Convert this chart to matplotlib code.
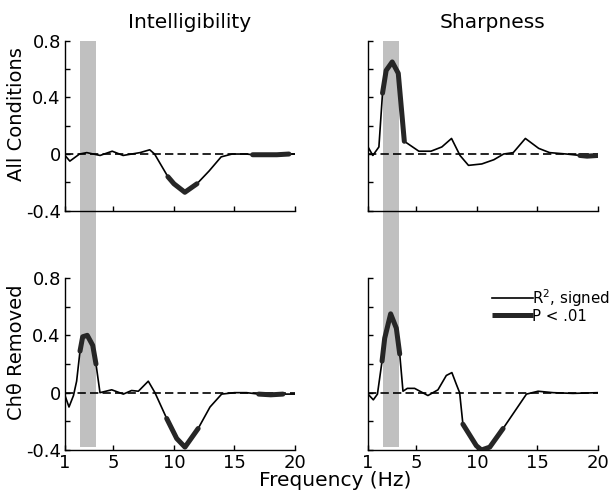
import numpy as np
import matplotlib.pyplot as plt
from matplotlib.lines import Line2D

plt.rcParams['font.family'] = ['DejaVu Sans']

# --- data ---
freq_int_all = [1, 1.4, 2.2, 2.8, 3.9, 4.9, 5.8, 7.2, 8.0, 8.4, 9.5, 10.0, 10.9, 11.9,
                12.9, 13.9, 14.8, 16.0, 16.5, 17.5, 18.5, 19.5, 20]
r2_int_all = [-0.01, -0.05, 0.0, 0.01, -0.01, 0.02, -0.01, 0.01, 0.03, 0.0, -0.16, -0.21,
              -0.27, -0.21, -0.12, -0.02, 0.0, 0.0, -0.005, -0.005, -0.005, 0.0, 0.0]
sig_int_all = [(9.5, 11.9), (16.5, 19.5)]

freq_shp_all = [1, 1.4, 1.9, 2.2, 2.5, 3.0, 3.5, 3.75, 4.0, 5.2, 6.2, 7.1, 7.9, 8.6, 9.3,
                10.4, 11.4, 12.2, 13.0, 14.0, 15.1, 16.0, 17.4, 18.5, 19.1, 20]
r2_shp_all = [0.05, -0.01, 0.05, 0.43, 0.59, 0.65, 0.57, 0.33, 0.09, 0.02, 0.02, 0.05, 0.11,
              -0.01, -0.08, -0.07, -0.04, 0.0, 0.01, 0.11, 0.04, 0.01, 0.0, -0.01, -0.015, -0.01]
sig_shp_all = [(2.2, 4.0), (18.5, 20)]

freq_int_rm = [1, 1.33, 1.7, 1.96, 2.24, 2.46, 2.84, 3.29, 3.56, 3.89, 4.86, 5.82, 6.5, 7.06,
               7.88, 8.43, 9.4, 10.23, 10.91, 12.0, 12.98, 13.94, 15, 16, 17, 18, 19, 20]
r2_int_rm = [-0.02, -0.10, -0.02, 0.08, 0.29, 0.39, 0.40, 0.33, 0.20, 0.0, 0.02, -0.01, 0.015,
             0.01, 0.08, 0.0, -0.18, -0.32, -0.38, -0.25, -0.10, -0.01, 0.0, 0.0, -0.01,
             -0.015, -0.01, -0.01]
sig_int_rm = [(2.24, 3.56), (9.4, 12.0), (17, 19)]

freq_shp_rm = [1, 1.44, 1.78, 2.16, 2.38, 2.87, 3.34, 3.62, 3.89, 4.25, 4.85, 5.95, 6.78, 7.47,
               7.93, 8.29, 8.57, 8.84, 9.95, 10.37, 11.06, 12.16, 14.09, 15.05, 16.29, 17.94, 20]
r2_shp_rm = [-0.01, -0.05, -0.01, 0.22, 0.38, 0.55, 0.45, 0.27, 0.01, 0.03, 0.03, -0.02, 0.02,
             0.12, 0.14, 0.06, 0.0, -0.22, -0.37, -0.40, -0.38, -0.25, -0.01, 0.01, 0.0,
             -0.005, 0.0]
sig_shp_rm = [(2.16, 3.62), (8.84, 12.16)]

band = (2.2, 3.6)
col_titles = ['Intelligibility', 'Sharpness']
row_labels = ['All Conditions', 'Ch\u03b8 Removed']

fig = plt.figure(figsize=(6.15, 5.01), dpi=100)
W, H = 615.0, 501.0
lefts = [65, 368]
tops = [40.7, 278]
bots = [210.7, 450]
aw = 230

panels = [[(freq_int_all, r2_int_all, sig_int_all), (freq_shp_all, r2_shp_all, sig_shp_all)],
          [(freq_int_rm, r2_int_rm, sig_int_rm), (freq_shp_rm, r2_shp_rm, sig_shp_rm)]]

axes = {}
for r in range(2):
    for c in range(2):
        ax = fig.add_axes([lefts[c] / W, 1 - bots[r] / H, aw / W, (bots[r] - tops[r]) / H])
        axes[r, c] = ax
        f, y, sig = panels[r][c]
        f = np.array(f)
        y = np.array(y)

        # grey band (top row band runs down through the gap)
        if r == 0:
            gap = (tops[1] - bots[0]) / (bots[0] - tops[0])
            ax.axvspan(band[0], band[1], ymin=-gap, ymax=1, color='#c0c0c0', lw=0,
                       clip_on=False, zorder=0)
        else:
            ax.axvspan(band[0], band[1], ymin=0.02, ymax=1, color='#c0c0c0', lw=0, zorder=0)

        ax.axhline(0, color='k', lw=1.2, ls=(0, (5, 2.5)), zorder=1)
        ax.plot(f, y, color='k', lw=1.2, zorder=2)
        for a, b in sig:
            m = (f >= a - 1e-9) & (f <= b + 1e-9)
            ax.plot(f[m], y[m], color='#262626', lw=3.6, solid_capstyle='round',
                    solid_joinstyle='round', zorder=3)

        ax.set_xlim(1, 20)
        ax.set_ylim(-0.4, 0.8)
        ax.set_xticks([1, 5, 10, 15, 20])
        ax.set_yticks([-0.4, -0.2, 0, 0.2, 0.4, 0.6, 0.8])
        ax.set_yticklabels(['-0.4', '', '0', '', '0.4', '', '0.8'])
        for s in ['top', 'right']:
            ax.spines[s].set_visible(False)
        for s in ['left', 'bottom']:
            ax.spines[s].set_linewidth(1.0)
        ax.tick_params(direction='in', length=3.5, width=1.0, labelsize=13, pad=3)
        if r == 0:
            ax.set_xticklabels([])
            ax.set_title(col_titles[c], fontsize=14.5, x=0.54, pad=9)
        if c == 1:
            ax.set_yticklabels([])
        else:
            ax.set_ylabel(row_labels[r], fontsize=14)
            ax.yaxis.set_label_coords(-0.17, 0.566)

fig.text(335 / W, 1 - 486 / H, 'Frequency (Hz)', ha='center', va='baseline', fontsize=14.5)

handles = [Line2D([], [], color='k', lw=1.2),
           Line2D([], [], color='#262626', lw=3.6, solid_capstyle='butt')]
leg = axes[1, 1].legend(handles, ['R$^2$, signed', 'P < .01'], loc='upper left',
                        bbox_to_anchor=(492 / W, 1 - 287 / H), bbox_transform=fig.transFigure,
                        frameon=False, fontsize=10.8, handlelength=2.7, handletextpad=0.0,
                        borderpad=0, borderaxespad=0, labelspacing=0.0)

fig.savefig('out.png', dpi=100)
